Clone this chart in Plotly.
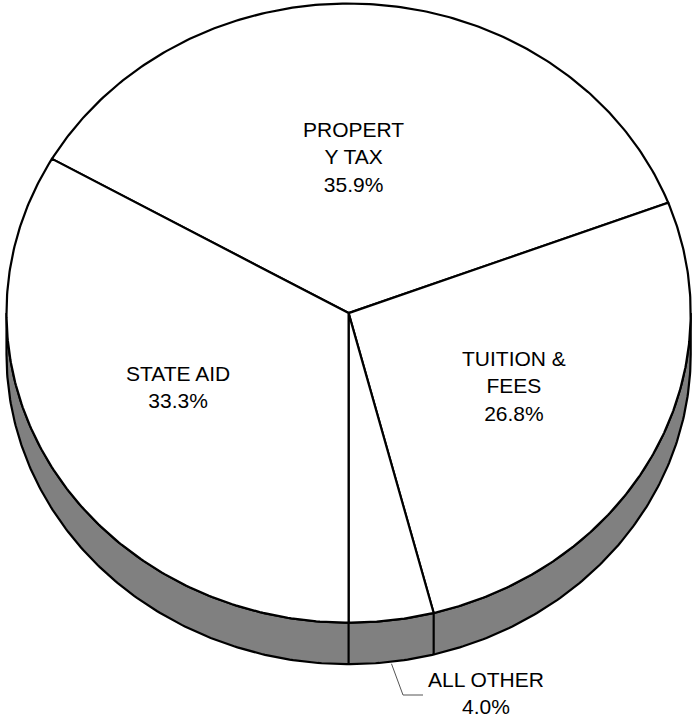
import numpy as np
import plotly.graph_objects as go


# ─────────────────────────────────────────────────────────────
# DATA
# ─────────────────────────────────────────────────────────────

categories  = ["PROPERTY TAX", "TUITION & FEES", "ALL OTHER", "STATE AID"]
shares      = [35.9, 26.8, 4.0, 33.3]
label_lines = ["PROPERT<br>Y TAX", "TUITION &<br>FEES", "ALL OTHER", "STATE AID"]

# label centres in page pixels (x, y)
LABEL_XY = [(353, 157), (514, 386), (486, 693), (178, 387)]

# ─────────────────────────────────────────────────────────────
# GEOMETRY / STYLE
# ─────────────────────────────────────────────────────────────

W, H    = 694, 718
CX, CY  = 348.6, 313.1
RX, RY  = 342.1, 309.6
DEPTH   = 41.5
FONT    = "Liberation Sans, Arial, sans-serif"
SIDE    = "#808080"

# the small slice ends at 6 o'clock, slices run clockwise
START = 180 - sum(shares[:3]) / sum(shares) * 360


def pt(theta, dy=0.0):
    t = np.radians(theta)
    return CX + RX * np.sin(t), CY - RY * np.cos(t) + dy


bounds = START + np.concatenate([[0], np.cumsum(shares)]) / sum(shares) * 360

fig = go.Figure()

# ── side wall (front half only) ─────────────────────────────
th = np.linspace(90, 270, 300)
tx, ty = pt(th)
bx, by = pt(th[::-1], DEPTH)
fig.add_trace(go.Scatter(
    x=np.concatenate([tx, bx, tx[:1]]),
    y=np.concatenate([ty, by, ty[:1]]),
    mode="lines", fill="toself", fillcolor=SIDE,
    line=dict(color="black", width=2.2), hoverinfo="skip",
))

# vertical edges where slice borders meet the wall
for b in bounds[1:]:
    a = b % 360
    if 90 < a < 270:
        x0, y0 = pt(a)
        x1, y1 = pt(a, DEPTH)
        fig.add_trace(go.Scatter(
            x=[x0, x1], y=[y0, y1], mode="lines",
            line=dict(color="black", width=2.2), hoverinfo="skip",
        ))

# ── top face slices ─────────────────────────────────────────
for i, name in enumerate(categories):
    arc = np.linspace(bounds[i], bounds[i + 1], 200)
    ax_, ay_ = pt(arc)
    fig.add_trace(go.Scatter(
        x=np.concatenate([[CX], ax_, [CX]]),
        y=np.concatenate([[CY], ay_, [CY]]),
        mode="lines", fill="toself", fillcolor="white",
        line=dict(color="black", width=2.2),
        name=name, hoverinfo="name",
    ))

# ── labels ──────────────────────────────────────────────────
for i, txt in enumerate(label_lines):
    lx, ly = LABEL_XY[i]
    fig.add_annotation(
        x=lx, y=ly, xref="x", yref="y",
        text=f"{txt}<br>{shares[i]:.1f}%",
        showarrow=False, xanchor="center", yanchor="middle",
        font=dict(family=FONT, size=21, color="black"),
    )

# leader line for the small slice
small = categories.index("ALL OTHER")
mid = (bounds[small] + bounds[small + 1]) / 2
sx, sy = pt(mid, DEPTH)
lx, ly = LABEL_XY[small]
fig.add_trace(go.Scatter(
    x=[sx, lx - 83, lx - 63], y=[sy + 2, ly + 2, ly + 2],
    mode="lines", line=dict(color="#555555", width=1), hoverinfo="skip",
))

fig.update_layout(
    width=W, height=H,
    margin=dict(l=0, r=0, t=0, b=0),
    paper_bgcolor="white", plot_bgcolor="white",
    showlegend=False,
    xaxis=dict(range=[0, W], visible=False, fixedrange=True),
    yaxis=dict(range=[H, 0], visible=False, fixedrange=True),
)

fig.write_html(
    "out.html",
    config={"displayModeBar": False},
    post_script="document.body.style.margin='0';document.body.style.overflow='hidden';",
)
